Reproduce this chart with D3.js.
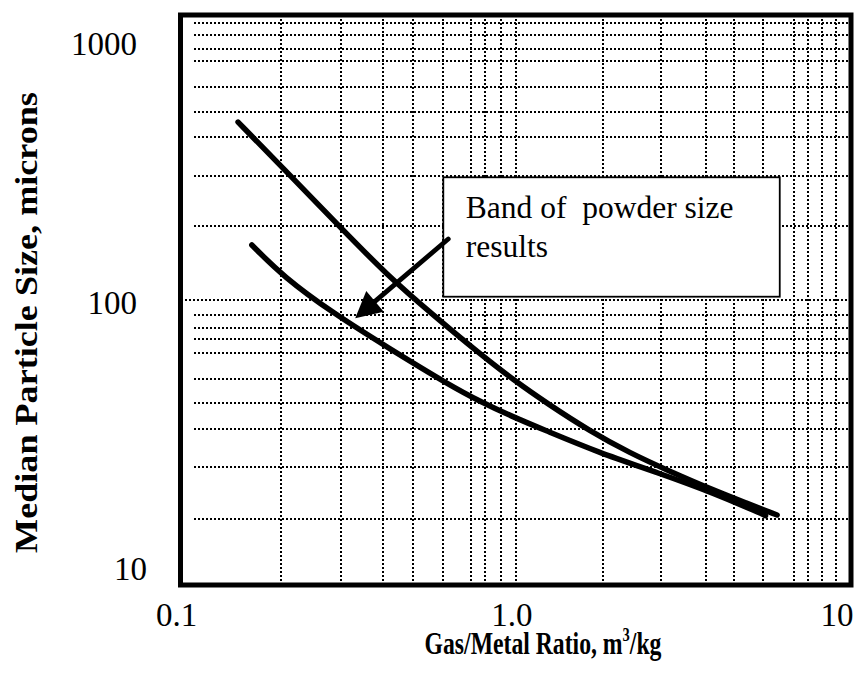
<!DOCTYPE html>
<html>
<head>
<meta charset="utf-8">
<script src="https://cdn.jsdelivr.net/npm/d3@7"></script>
<style>
  body { margin: 0; background: #fff; }
  text { font-family: "Liberation Serif", "Times New Roman", serif; fill: #000; white-space: pre; }
</style>
</head>
<body>
<div id="chart"></div>
<script>
// data
var upperX = [0.1485, 0.202, 0.299, 0.413, 0.567, 0.783, 0.985, 1.239, 1.669, 2.197, 2.828, 3.894, 4.90, 6.02];
var upperY = [421, 290.5, 180.4, 122.4, 88.6, 64.6, 52.4, 43.4, 34.6, 29.0, 25.3, 21.5, 19.35, 17.6];
var lowerX = [0.1632, 0.2027, 0.2858, 0.4127, 0.6375, 0.7834, 0.985, 1.239, 1.748, 2.70, 3.894, 5.37, 5.56];
var lowerY = [156, 120.7, 89.8, 68.4, 50.1, 44.05, 38.8, 34.7, 29.3, 24.6, 21.0, 17.85, 17.5];

var xTicks = [0.1, 1, 10];
var xTickLabels = ["0.1", "1.0", "10"];
var yTicks = [10, 100, 1000];
var yTickLabels = ["10", "100", "1000"];

// the grid of the original is not a clean log grid, so its lines are read off too
var xGrid = [0.1995, 0.301, 0.403, 0.494, 0.608, 0.736, 0.811, 0.905, 1.0,
             1.82, 2.72, 3.69, 4.47, 5.47, 6.75, 7.43, 8.20, 9.03];
var yGridMinor = [17.1, 25.9, 35.2, 43.4, 52.7, 65.3, 72.8, 80.0, 88.6,
                  182, 272, 373, 457, 559, 690, 760, 851, 937];
var yGridMajor = [100];

var noteLines = ["Band of  powder size", "results"];
var noteBox = [[0.608, 269.5], [6.13, 102.7]];   // corners, data units
var arrowFrom = [0.629, 163.7];
var arrowTo = [0.332, 86.3];

var xTitle = "Gas/Metal Ratio, m";
var yTitle = "Median Particle Size, microns";

// layout
var width = 858, height = 682;
var plotLeft = 180.5, plotRight = 851, plotTop = 15, plotBottom = 585;

var svg = d3.select("#chart").append("svg")
    .attr("width", width)
    .attr("height", height);

var x = d3.scaleLog().domain([0.1, 10]).range([plotLeft, plotRight]);
var y = d3.scaleLog().domain([10, 1000]).range([plotBottom, plotTop]);

// grid
var grid = svg.append("g")
    .attr("stroke", "#000")
    .attr("stroke-width", 2)
    .attr("stroke-dasharray", "2,2")
    .attr("shape-rendering", "crispEdges");
grid.selectAll("line.vx")
    .data(xGrid).enter()
    .append("line")
    .attr("class", "vx")
    .attr("x1", (d) => Math.round(x(d))).attr("x2", (d) => Math.round(x(d)))
    .attr("y1", plotTop).attr("y2", plotBottom);
grid.selectAll("line.hy")
    .data(yGridMinor).enter()
    .append("line")
    .attr("class", "hy")
    .attr("x1", x(0.11)).attr("x2", plotRight)
    .attr("y1", (d) => Math.round(y(d))).attr("y2", (d) => Math.round(y(d)));
grid.selectAll("line.hmaj")
    .data(yGridMajor).enter()
    .append("line")
    .attr("class", "hmaj")
    .attr("x1", plotLeft).attr("x2", plotRight)
    .attr("y1", (d) => Math.round(y(d))).attr("y2", (d) => Math.round(y(d)));

// curves
var curveLine = d3.line()
    .x((d) => x(d[0]))
    .y((d) => y(d[1]))
    .curve(d3.curveBasis);
[d3.zip(upperX, upperY), d3.zip(lowerX, lowerY)].forEach((pts) => {
    svg.append("path")
        .attr("d", curveLine(pts))
        .attr("fill", "none")
        .attr("stroke", "#000")
        .attr("stroke-width", 5.5)
        .attr("stroke-linecap", "round")
        .attr("stroke-linejoin", "round");
});

// note box
var bx0 = x(noteBox[0][0]), by0 = y(noteBox[0][1]);
var bx1 = x(noteBox[1][0]), by1 = y(noteBox[1][1]);
svg.append("rect")
    .attr("x", bx0).attr("y", by0)
    .attr("width", bx1 - bx0).attr("height", by1 - by0)
    .attr("fill", "#fff")
    .attr("stroke", "#000")
    .attr("stroke-width", 1.8);
svg.selectAll("text.note")
    .data(noteLines).enter()
    .append("text")
    .attr("class", "note")
    .attr("x", bx0 + 22.5)
    .attr("y", (d, i) => by0 + 41 + i * 38.7)
    .style("font-size", "31.5px")
    .text((d) => d);

// arrow
var ax0 = x(arrowFrom[0]), ay0 = y(arrowFrom[1]);
var ax1 = x(arrowTo[0]), ay1 = y(arrowTo[1]);
var len = Math.hypot(ax1 - ax0, ay1 - ay0);
var ux = (ax1 - ax0) / len, uy = (ay1 - ay0) / len;
var headLen = 26, headHalf = 13.5;
var bxm = ax1 - ux * headLen, bym = ay1 - uy * headLen;
svg.append("line")
    .attr("x1", ax0).attr("y1", ay0)
    .attr("x2", bxm + ux * 2).attr("y2", bym + uy * 2)
    .attr("stroke", "#000")
    .attr("stroke-width", 4.8)
    .attr("stroke-linecap", "round");
svg.append("path")
    .attr("d", "M" + ax1 + "," + ay1 +
        "L" + (bxm - uy * headHalf) + "," + (bym + ux * headHalf) +
        "L" + (bxm + uy * headHalf) + "," + (bym - ux * headHalf) + "Z")
    .attr("fill", "#000");

// frame
svg.append("rect")
    .attr("x", plotLeft).attr("y", plotTop)
    .attr("width", plotRight - plotLeft).attr("height", plotBottom - plotTop)
    .attr("fill", "none")
    .attr("stroke", "#000")
    .attr("stroke-width", 5);

// tick labels (pulled inside the frame ends like the original)
svg.selectAll("text.xt")
    .data(xTicks).enter()
    .append("text")
    .attr("class", "xt")
    .attr("x", (d) => Math.max(171, Math.min(837, x(d) - 4)))
    .attr("y", 626)
    .attr("text-anchor", "middle")
    .style("font-size", "33px")
    .text((d, i) => xTickLabels[i]);
svg.selectAll("text.yt")
    .data(yTicks).enter()
    .append("text")
    .attr("class", "yt")
    .attr("x", (d) => d === 10 ? 147 : 137)
    .attr("y", (d) => Math.max(43, Math.min(568, y(d) + 2)))
    .attr("dy", "0.35em")
    .attr("text-anchor", "end")
    .style("font-size", "33px")
    .text((d, i) => yTickLabels[i]);

// axis titles, stretched to the widths of the original
var xt = svg.append("text")
    .attr("text-anchor", "middle")
    .style("font-size", "31px")
    .style("font-weight", "bold");
xt.append("tspan").text(xTitle);
xt.append("tspan").attr("dy", -13).style("font-size", "19px").text("3");
xt.append("tspan").attr("dy", 13).text("/kg");
var xw = xt.node().getComputedTextLength();
xt.attr("transform", "translate(543,654) scale(" + (237 / xw) + ",1)");

var yt = svg.append("text")
    .attr("text-anchor", "middle")
    .style("font-size", "31px")
    .style("font-weight", "bold")
    .text(yTitle);
var yw = yt.node().getComputedTextLength();
yt.attr("transform", "translate(37,322.5) rotate(-90) scale(" + (461 / yw) + ",1)");
</script>
</body>
</html>
